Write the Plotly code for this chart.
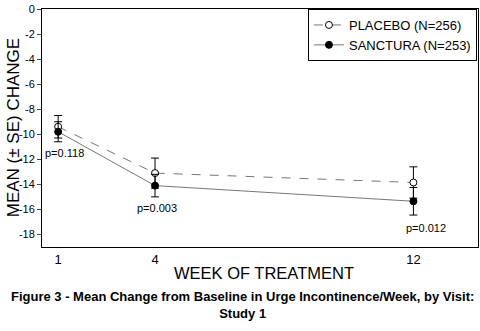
import plotly.graph_objects as go

weeks = [1, 4, 12]
placebo_mean = [-9.4, -13.1, -13.85]
placebo_se = [0.9, 1.2, 1.25]
sanctura_mean = [-9.8, -14.1, -15.35]
sanctura_se = [0.8, 0.9, 1.1]
p_labels = ["p=0.118", "p=0.003", "p=0.012"]
p_x = [1.2, 4.05, 12.4]
p_y = [-11.5, -15.9, -17.5]
y_ticks = list(range(0, -19, -2))
y_ticktext = ["0" if v == 0 else "-" + str(abs(v)) for v in y_ticks]

FONT = "Liberation Sans, Arial, sans-serif"

fig = go.Figure()
fig.add_trace(go.Scatter(
    x=weeks, y=placebo_mean, mode="lines+markers", name="PLACEBO (N=256)",
    line=dict(color="#777777", width=1, dash="dash"),
    marker=dict(symbol="circle", size=7, color="white", line=dict(color="black", width=1)),
    error_y=dict(type="data", array=placebo_se, color="black", thickness=1, width=4),
))
fig.add_trace(go.Scatter(
    x=weeks, y=sanctura_mean, mode="lines+markers", name="SANCTURA (N=253)",
    line=dict(color="#777777", width=1),
    marker=dict(symbol="circle", size=7, color="black", line=dict(color="black", width=1)),
    error_y=dict(type="data", array=sanctura_se, color="black", thickness=1, width=4),
))

for t, x, y in zip(p_labels, p_x, p_y):
    fig.add_annotation(x=x, y=y, text=t, showarrow=False,
                       font=dict(family=FONT, size=11, color="black"))

fig.add_annotation(xref="paper", yref="paper", x=0.51, y=-0.11, text="WEEK OF TREATMENT",
                   showarrow=False, yanchor="middle",
                   font=dict(family=FONT, size=16.5, color="black"))
fig.add_annotation(xref="paper", yref="paper", x=-0.066, y=0.5, text="MEAN (± SE) CHANGE",
                   textangle=-90, showarrow=False, xanchor="center", yanchor="middle",
                   font=dict(family=FONT, size=17, color="black"))
fig.add_annotation(xref="paper", yref="paper", x=0.46, y=-0.245,
                   text="<b>Figure 3 - Mean Change from Baseline in Urge Incontinence/Week, by Visit:</b><br><b>Study 1</b>",
                   showarrow=False, yanchor="middle", align="center",
                   font=dict(family=FONT, size=13, color="black"))

fig.update_layout(
    width=480, height=331,
    margin=dict(l=42, r=2, t=9, b=84),
    paper_bgcolor="white", plot_bgcolor="white",
    font=dict(family=FONT, color="black"),
    showlegend=True,
    legend=dict(x=0.61, y=1.0, xanchor="left", yanchor="top",
                bordercolor="black", borderwidth=1, bgcolor="white",
                font=dict(family=FONT, size=13, color="black"),
                tracegroupgap=0, itemwidth=30),
    xaxis=dict(range=[0.5, 14], tickvals=weeks, ticktext=[str(w) for w in weeks],
               showgrid=False, zeroline=False, showline=True, linecolor="black", mirror=True,
               ticks="", tickfont=dict(size=13)),
    yaxis=dict(range=[-19, 0], tickvals=y_ticks, ticktext=y_ticktext, showgrid=False,
               zeroline=False, showline=True, linecolor="black", mirror=True,
               ticks="outside", ticklen=4, tickfont=dict(size=11)),
)

fig.write_html("out.html")
